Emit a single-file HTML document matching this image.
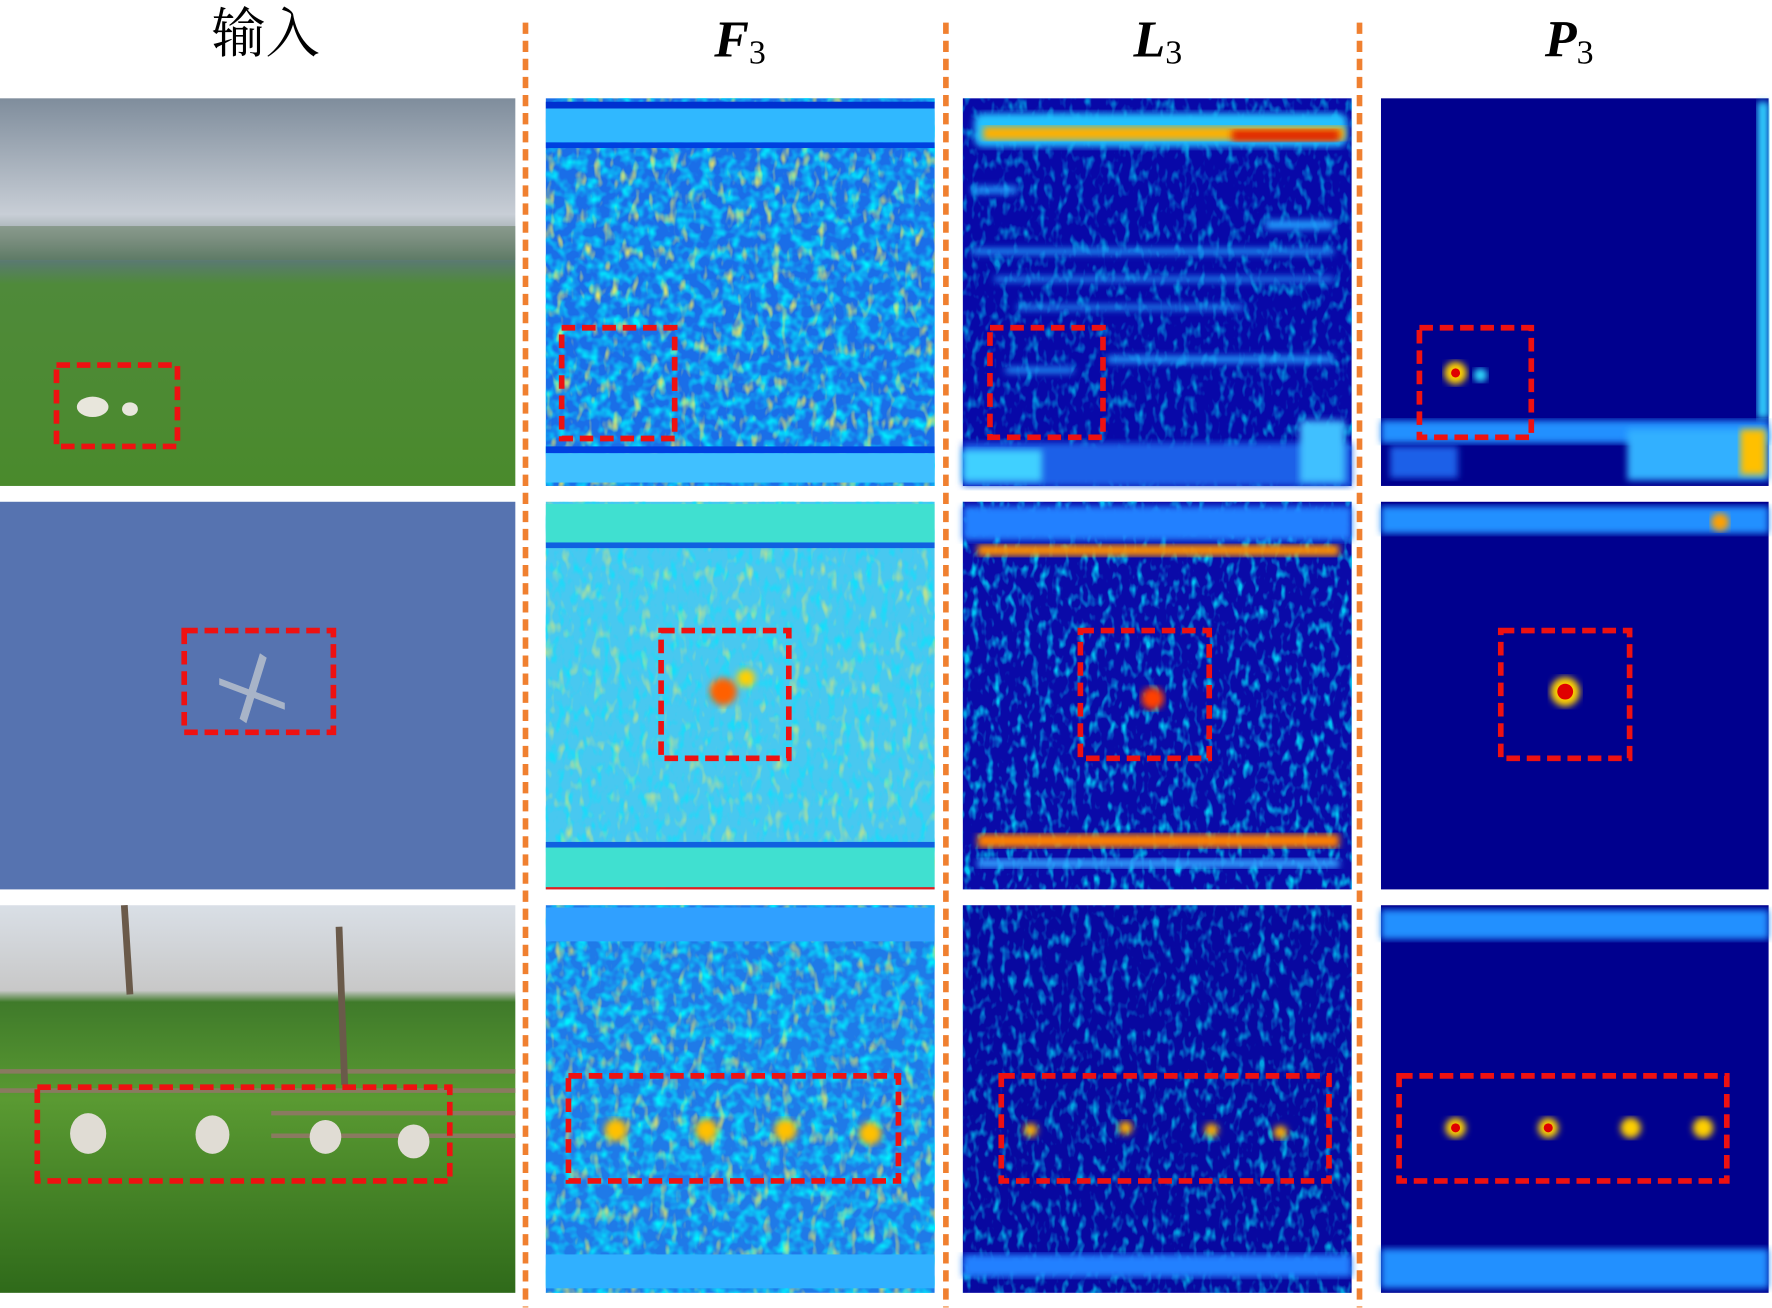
<!DOCTYPE html>
<html><head><meta charset="utf-8"><style>
html,body{margin:0;padding:0;background:#fff;}
svg{display:block;}
</style></head><body>
<svg width="1772" height="1308" viewBox="0 0 1568 1157.4" xmlns="http://www.w3.org/2000/svg">
<defs>
<linearGradient id="sky1" x1="0" y1="0" x2="0" y2="1">
<stop offset="0" stop-color="#7f8d9c"/><stop offset="0.3" stop-color="#c8ced6"/><stop offset="0.36" stop-color="#9aa6a8"/><stop offset="0.42" stop-color="#5a7a70"/><stop offset="0.48" stop-color="#4f8a3a"/><stop offset="1" stop-color="#4a8a2c"/>
</linearGradient>
<linearGradient id="sky3" x1="0" y1="0" x2="0" y2="1">
<stop offset="0" stop-color="#d9dfe6"/><stop offset="0.22" stop-color="#c8c8c8"/><stop offset="0.25" stop-color="#3f7a2a"/><stop offset="0.5" stop-color="#5a9a32"/><stop offset="1" stop-color="#2f6a1a"/>
</linearGradient>
<filter id="noise" x="0" y="0" width="100%" height="100%">
<feTurbulence type="fractalNoise" baseFrequency="0.1" numOctaves="2" seed="3"/>
<feColorMatrix type="matrix" values="0 0 0 0 0  0 0 0 0 0.9  0 0 0 0 1  0 0 0 2.2 -0.9"/>
</filter>
<filter id="noiseY" x="0" y="0" width="100%" height="100%">
<feTurbulence type="fractalNoise" baseFrequency="0.12 0.06" numOctaves="2" seed="7"/>
<feColorMatrix type="matrix" values="0 0 0 0 1  0 0 0 0 0.9  0 0 0 0 0.1  0 0 0 3 -1.7"/>
</filter>
<filter id="noiseC" x="0" y="0" width="100%" height="100%">
<feTurbulence type="fractalNoise" baseFrequency="0.15 0.08" numOctaves="2" seed="11"/>
<feColorMatrix type="matrix" values="0 0 0 0 0  0 0 0 0 0.8  0 0 0 0 1  0 0 0 3 -1.5"/>
</filter>
<filter id="blur"><feGaussianBlur stdDeviation="3"/></filter>
</defs>

<text x="235" y="46" font-family="Liberation Serif, 'Noto Serif CJK SC', serif" font-size="48" text-anchor="middle">输入</text>
<text x="632" y="50" font-family="Liberation Serif, serif" font-size="46" font-weight="bold" font-style="italic">F<tspan font-size="30" font-weight="normal" font-style="normal" dy="6">3</tspan></text>
<text x="1003" y="50" font-family="Liberation Serif, serif" font-size="46" font-weight="bold" font-style="italic">L<tspan font-size="30" font-weight="normal" font-style="normal" dy="6">3</tspan></text>
<text x="1367" y="50" font-family="Liberation Serif, serif" font-size="46" font-weight="bold" font-style="italic">P<tspan font-size="30" font-weight="normal" font-style="normal" dy="6">3</tspan></text>

<rect x="0" y="87" width="456" height="343" fill="url(#sky1)"/>
<rect x="0" y="200" width="456" height="30" fill="#5f7a5a" opacity="0.5"/>
<ellipse cx="82" cy="360" rx="14" ry="9" fill="#e8e6dc"/><ellipse cx="115" cy="362" rx="7" ry="6" fill="#e8e6dc"/>
<rect x="0" y="444" width="456" height="343" fill="#5673b0"/>
<g fill="#a8b4c8"><polygon points="230,578 236,582 218,640 212,636"/><polygon points="194,600 252,622 252,628 194,606"/></g>
<rect x="0" y="801" width="456" height="343" fill="url(#sky3)"/>
<g stroke="#8a7a60" stroke-width="4" fill="none"><line x1="0" y1="948" x2="456" y2="948"/><line x1="0" y1="965" x2="456" y2="965"/><line x1="240" y1="985" x2="456" y2="985"/><line x1="240" y1="1005" x2="456" y2="1005"/></g>
<g stroke="#6a5a4a" stroke-width="6"><line x1="300" y1="820" x2="305" y2="960"/><line x1="110" y1="801" x2="115" y2="880"/></g>
<g fill="#e0dcd4"><ellipse cx="78" cy="1003" rx="16" ry="18"/><ellipse cx="188" cy="1004" rx="15" ry="17"/><ellipse cx="288" cy="1006" rx="14" ry="15"/><ellipse cx="366" cy="1010" rx="14" ry="15"/></g>

<g>
<rect x="483" y="87" width="344" height="343" fill="#1a6ee8"/>
<rect x="483" y="87" width="344" height="343" filter="url(#noise)"/>
<rect x="483" y="87" width="344" height="343" filter="url(#noiseY)" opacity="0.9"/>
<rect x="483" y="90" width="344" height="6" fill="#0030d0"/><rect x="483" y="96" width="344" height="30" fill="#30b8ff"/><rect x="483" y="126" width="344" height="5" fill="#0040e0"/>
<rect x="483" y="395" width="344" height="6" fill="#0040e0"/><rect x="483" y="401" width="344" height="26" fill="#40c0ff"/>
<rect x="483" y="444" width="344" height="343" fill="#48c8f0"/>
<rect x="483" y="444" width="344" height="343" filter="url(#noiseC)" opacity="0.7"/>
<rect x="483" y="444" width="344" height="343" filter="url(#noiseY)" opacity="0.6"/>
<rect x="483" y="446" width="344" height="34" fill="#40e0d0"/><rect x="483" y="480" width="344" height="5" fill="#1060e0"/>
<rect x="483" y="745" width="344" height="5" fill="#1060e0"/><rect x="483" y="750" width="344" height="35" fill="#40e0d0"/>
<rect x="483" y="785" width="344" height="2" fill="#e02020"/>
<g filter="url(#blur)"><circle cx="640" cy="612" r="12" fill="#ff6000"/><circle cx="660" cy="600" r="8" fill="#ffd000"/></g>
<rect x="483" y="801" width="344" height="343" fill="#1f7ae8"/>
<rect x="483" y="801" width="344" height="343" filter="url(#noise)"/>
<rect x="483" y="801" width="344" height="343" filter="url(#noiseY)" opacity="0.7"/>
<rect x="483" y="803" width="344" height="30" fill="#30a0ff"/><rect x="483" y="1110" width="344" height="30" fill="#30b0ff"/>
<g filter="url(#blur)" fill="#ffc000"><circle cx="545" cy="1000" r="10"/><circle cx="625" cy="1000" r="10"/><circle cx="695" cy="1000" r="10"/><circle cx="770" cy="1003" r="10"/></g>
</g>

<g>
<rect x="852" y="87" width="344" height="343" fill="#0808a8"/>
<rect x="852" y="87" width="344" height="343" filter="url(#noiseC)" opacity="0.6"/>
<g fill="#20a0ff" filter="url(#blur)">
<rect x="860" y="165" width="40" height="6"/><rect x="1120" y="195" width="60" height="8"/><rect x="860" y="220" width="320" height="5"/><rect x="880" y="245" width="300" height="4"/><rect x="900" y="270" width="200" height="4"/><rect x="980" y="315" width="200" height="6"/><rect x="890" y="325" width="60" height="5"/>
</g>
<rect x="862" y="100" width="330" height="30" rx="8" fill="#20c0ff" filter="url(#blur)"/>
<rect x="870" y="112" width="320" height="12" fill="#ffb000" filter="url(#blur)"/>
<rect x="1090" y="115" width="95" height="10" fill="#e02000" filter="url(#blur)"/>
<rect x="852" y="392" width="344" height="38" fill="#1a60e8" filter="url(#blur)"/>
<rect x="1150" y="372" width="40" height="55" fill="#40c0ff" filter="url(#blur)"/>
<rect x="852" y="398" width="70" height="28" fill="#40d0ff" filter="url(#blur)"/>
<rect x="852" y="444" width="344" height="343" fill="#0a0aa8"/>
<rect x="852" y="444" width="344" height="343" filter="url(#noiseC)" opacity="0.85"/>
<rect x="852" y="448" width="344" height="30" fill="#2080ff" filter="url(#blur)"/>
<rect x="865" y="482" width="320" height="10" fill="#ff9000" filter="url(#blur)"/>
<rect x="865" y="738" width="320" height="12" fill="#ff8000" filter="url(#blur)"/>
<rect x="865" y="760" width="320" height="8" fill="#30a0ff" filter="url(#blur)"/>
<circle cx="1020" cy="618" r="10" fill="#ff4000" filter="url(#blur)"/>
<rect x="852" y="801" width="344" height="343" fill="#0808a0"/>
<rect x="852" y="801" width="344" height="343" filter="url(#noiseC)" opacity="0.7"/>
<rect x="852" y="1110" width="344" height="20" fill="#2080ff" filter="url(#blur)"/>
<g filter="url(#blur)" fill="#ffb000"><circle cx="912" cy="1000" r="6"/><circle cx="996" cy="998" r="6"/><circle cx="1072" cy="1000" r="6"/><circle cx="1133" cy="1002" r="6"/></g>
</g>

<g>
<rect x="1222" y="87" width="343" height="343" fill="#00008e"/>
<rect x="1222" y="372" width="343" height="20" fill="#2090ff" filter="url(#blur)"/>
<rect x="1230" y="395" width="60" height="28" fill="#1a60e8" filter="url(#blur)"/>
<rect x="1440" y="380" width="125" height="45" fill="#30b0ff" filter="url(#blur)"/>
<rect x="1540" y="380" width="22" height="40" fill="#ffc000" filter="url(#blur)"/>
<rect x="1555" y="90" width="10" height="280" fill="#30d0ff" filter="url(#blur)"/>
<circle cx="1288" cy="330" r="10" fill="#ffd000" filter="url(#blur)"/><circle cx="1288" cy="330" r="4" fill="#e00000"/>
<circle cx="1310" cy="332" r="6" fill="#30e0ff" filter="url(#blur)"/>
<rect x="1222" y="444" width="343" height="343" fill="#00008e"/>
<rect x="1222" y="448" width="343" height="24" fill="#2090ff" filter="url(#blur)"/>
<circle cx="1522" cy="462" r="8" fill="#ffa000" filter="url(#blur)"/>
<circle cx="1385" cy="612" r="13" fill="#ffd000" filter="url(#blur)"/><circle cx="1385" cy="612" r="7" fill="#e00000"/>
<rect x="1222" y="801" width="343" height="343" fill="#00008e"/>
<rect x="1222" y="805" width="343" height="26" fill="#2090ff" filter="url(#blur)"/>
<rect x="1222" y="1105" width="343" height="35" fill="#2090ff" filter="url(#blur)"/>
<g filter="url(#blur)" fill="#ffd000"><circle cx="1288" cy="998" r="9"/><circle cx="1370" cy="998" r="9"/><circle cx="1443" cy="998" r="9"/><circle cx="1507" cy="998" r="9"/></g>
<g fill="#e00000"><circle cx="1288" cy="998" r="4"/><circle cx="1370" cy="998" r="4"/></g>
</g>

<g fill="none" stroke="#ee1111" stroke-width="5" stroke-dasharray="12 6">
<rect x="50" y="323" width="107" height="72"/>
<rect x="497" y="290" width="100" height="98"/>
<rect x="876" y="290" width="100" height="97"/>
<rect x="1256" y="290" width="99" height="97"/>
<rect x="163" y="558" width="132" height="90"/>
<rect x="585" y="558" width="113" height="113"/>
<rect x="956" y="558" width="114" height="113"/>
<rect x="1328" y="558" width="114" height="113"/>
<rect x="33" y="962" width="365" height="83"/>
<rect x="503" y="952" width="292" height="93"/>
<rect x="886" y="952" width="290" height="93"/>
<rect x="1238" y="952" width="290" height="93"/>
</g>

<g stroke="#f08030" stroke-width="5" stroke-dasharray="10 6">
<line x1="465" y1="20" x2="465" y2="1157"/>
<line x1="837" y1="20" x2="837" y2="1157"/>
<line x1="1203" y1="20" x2="1203" y2="1157"/>
</g>
</svg>
</body></html>
